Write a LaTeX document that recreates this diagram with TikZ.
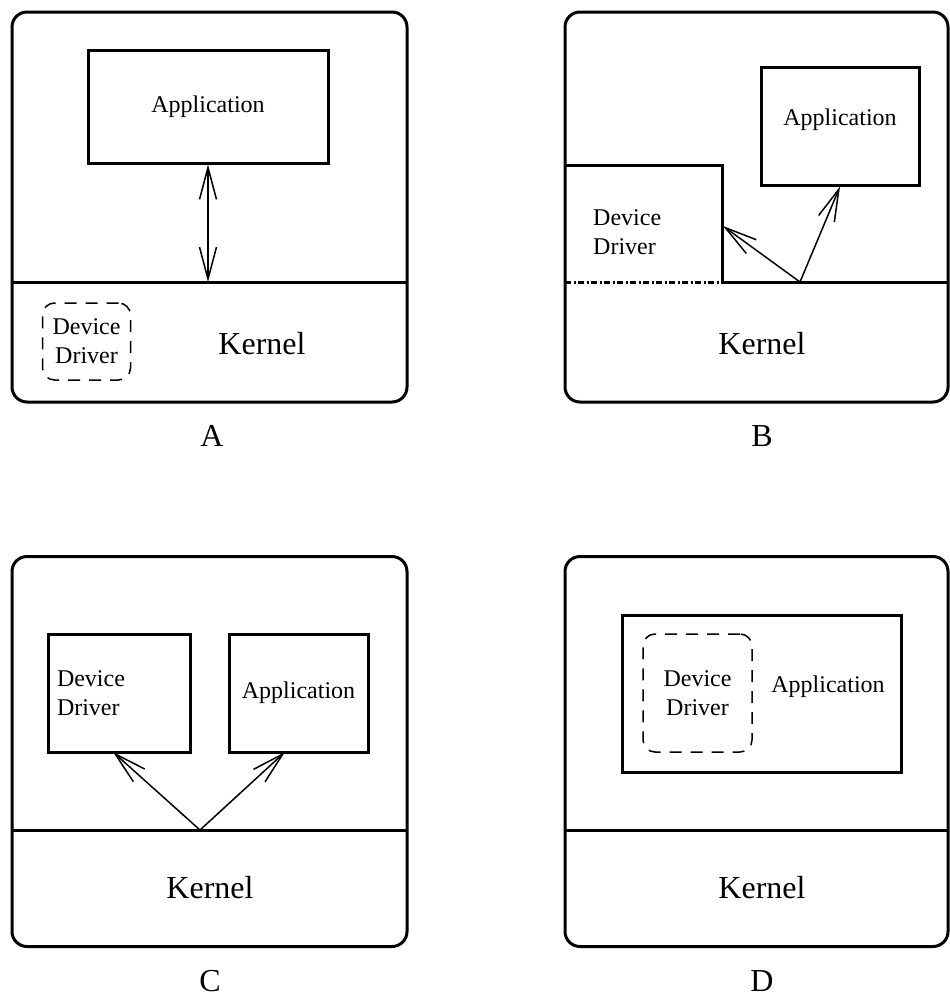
\documentclass[tikz,border=0pt]{standalone}
\usepackage{fontspec}
\setmainfont{Liberation Serif}
\usetikzlibrary{arrows.meta, positioning}

\begin{document}
\begin{tikzpicture}[
				x=1pt, y=-1pt,
				>={Straight Barb[length=32pt, width=17pt]},
				panel/.style={
					draw,
					line width=3pt,
					rounded corners=15pt,
					minimum width=395pt,
					minimum height=390pt,
					inner sep=0pt
				},
				box/.style={
					draw,
					line width=3pt,
					inner sep=0pt,
					font=\fontsize{24}{29}\selectfont
				},
				dbox/.style={
					draw,
					dash pattern=on 12pt off 9pt,
					line width=1.5pt,
					rounded corners=12pt,
					inner sep=0pt,
					align=center,
					font=\fontsize{24}{29}\selectfont
				},
				txt/.style={
					inner sep=0pt,
					align=left,
					font=\fontsize{24}{29}\selectfont
				},
				kern/.style={font=\fontsize{32}{38}\selectfont},
				lab/.style={inner sep=0pt, font=\fontsize{32}{38}\selectfont},
				sep/.style={line width=3pt},
				dotline/.style={line width=3pt, dash pattern=on 6pt off 2.5pt on 2pt off 2.5pt},
				arr/.style={->, line width=1.5pt}
				]
				
				\useasboundingbox (0,0) rectangle (950,999);
				
				% Panel A: driver inside the kernel
				\node[panel] (pa) at (209.5,207) {};
				\coordinate (kal) at (12,282);
				\coordinate (kar) at (407,282);
				\draw[sep] (kal) -- (kar);
				
				\node[box, minimum width=240pt, minimum height=113pt] (appa) at (208,106.5) {Application};
				\coordinate (ka) at (208,282);
				\draw[arr, <->] (appa.south) -- (ka);
				
				\node[dbox, minimum width=88pt, minimum height=77pt] (dda) at (86.5,341.5) {Device\\Driver};
				\node[kern] (kerna) at (262,344) {Kernel};
				\node[lab] (laba) at (212,436) {A};
				
				% Panel B: driver beside the kernel
				\node[panel, minimum width=383pt] (pb) at (756.5,207) {};
				\coordinate (bd0) at (565,282);
				\coordinate (bd1) at (565,165);
				\coordinate (bd2) at (722,165);
				\coordinate (bd3) at (722,282);
				\coordinate (bd4) at (948,282);
				\draw[sep] (bd1) -- (bd2) -- (bd3) -- (bd4);
				\draw[dotline] (bd0) -- (bd3);
				
				\node[txt, anchor=west] (ddb) at (593,232) {Device\\Driver};
				\node[box, minimum width=158pt, minimum height=118pt, text depth=17pt] (appb) at (840,126) {Application};
				
				\coordinate (sb) at (800,282);
				\coordinate (tb) at (723,226);
				\draw[arr] (sb) -- (tb);
				\draw[arr] (sb) -- (appb.south);
				
				\node[kern] (kernb) at (762,344) {Kernel};
				\node[lab] (labb) at (762,436) {B};
				
				% Panel C: driver as a user process
				\node[panel] (pc) at (209.5,751.5) {};
				\coordinate (kcl) at (12,830);
				\coordinate (kcr) at (407,830);
				\draw[sep] (kcl) -- (kcr);
				
				\node[box, minimum width=142pt, minimum height=118pt, text width=124pt, align=left] (ddc) at (119,693) {Device\\Driver};
				\node[box, minimum width=139pt, minimum height=118pt] (appc) at (298.5,693) {Application};
				
				\coordinate (sc) at (200,830);
				\coordinate (tc1) at (113,752);
				\coordinate (tc2) at (285,752);
				\draw[arr] (sc) -- (tc1);
				\draw[arr] (sc) -- (tc2);
				
				\node[kern] (kernc) at (210,888) {Kernel};
				\node[lab] (labc) at (210,981) {C};
				
				% Panel D: driver linked into the application
				\node[panel, minimum width=383pt] (pd) at (756.5,751.5) {};
				\coordinate (kdl) at (565,830);
				\coordinate (kdr) at (948,830);
				\draw[sep] (kdl) -- (kdr);
				
				\node[box, minimum width=279pt, minimum height=157pt] (appd) at (761.5,693.5) {};
				\node[dbox, minimum width=109pt, minimum height=118pt] (ddd) at (697.5,693) {Device\\Driver};
				\node[txt] (appdt) at (828,687) {Application};
				
				\node[kern] (kernd) at (762,888) {Kernel};
				\node[lab] (labd) at (762,981) {D};
				
			\end{tikzpicture}
\end{document}
